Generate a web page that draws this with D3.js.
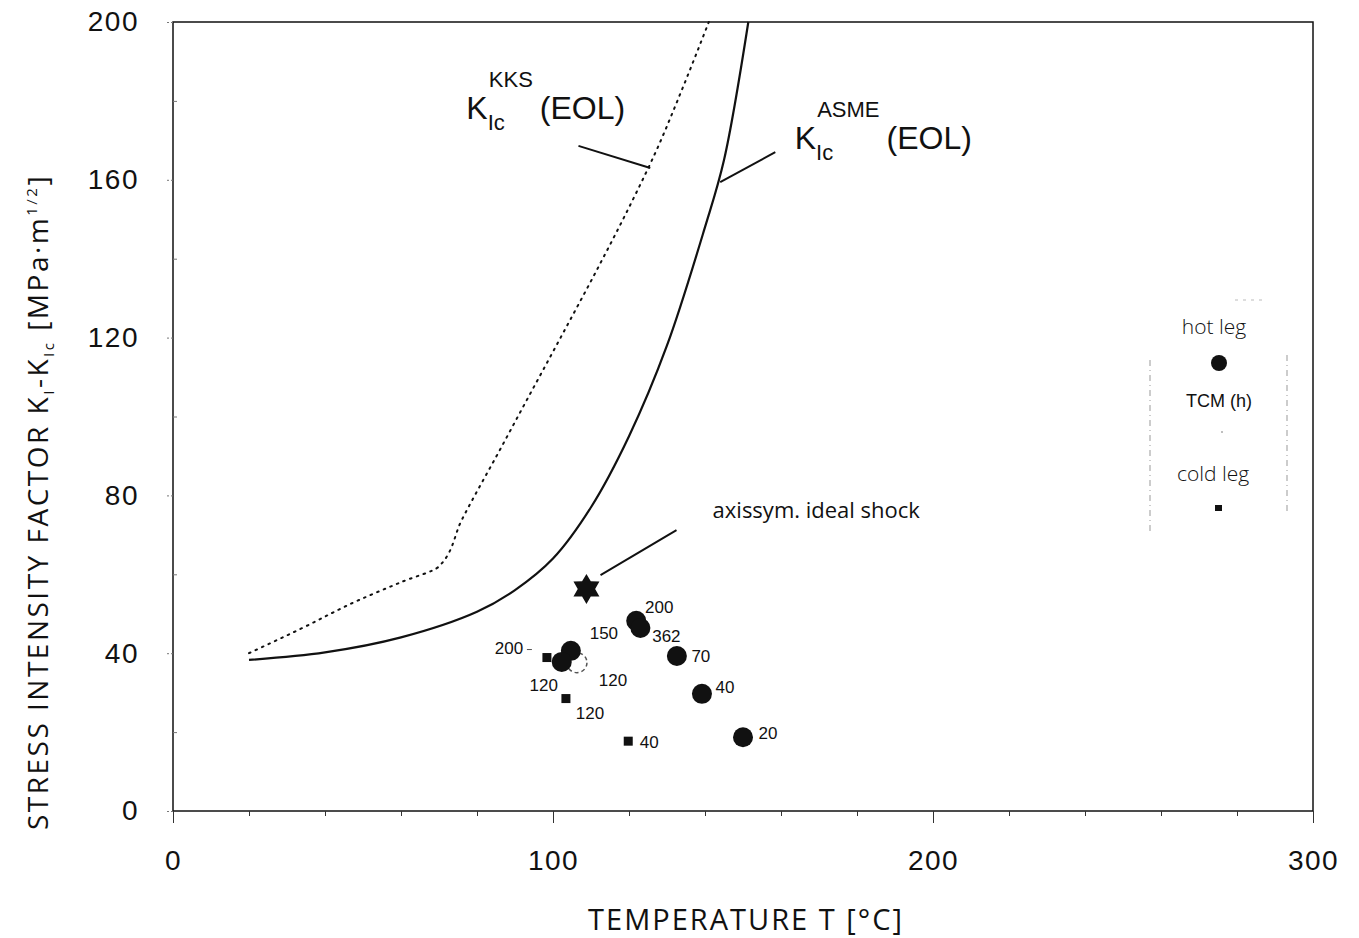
<!DOCTYPE html>
<html>
<head>
<meta charset="utf-8">
<script src="https://cdn.jsdelivr.net/npm/d3@7"></script>
<style>
  body { margin: 0; background: #fff; }
  text { font-family: "Liberation Sans", Arial, sans-serif; fill: #111; }
  .thin { font-family: "Open Sans", "DejaVu Sans", sans-serif; font-weight: 400; }
</style>
</head>
<body>
<svg id="chart" width="1359" height="938"></svg>
<script>
(function() {

  // curves
  var kksT = [20, 33, 49, 60, 70, 76, 86, 93, 102, 112, 120, 127, 134, 141]
  var kksK = [40, 45.9, 53.5, 58, 62, 73.8, 91.5, 104, 120, 138, 153, 167, 183, 200]
  var asmeT = [20, 40, 60, 80, 90, 100, 110, 120, 130, 140, 145, 151.4]
  var asmeK = [38.3, 40.2, 44, 50.5, 56, 64, 77, 95, 118, 148, 165, 200]

  // hot leg (filled circles)
  var hotT = [121.9, 123.0, 132.6, 139.2, 150.0, 104.7, 102.3]
  var hotK = [48.2, 46.4, 39.3, 29.7, 18.7, 40.6, 37.8]
  var hotLabels = ["200", "362", "70", "40", "20", "150", "120"]

  // TCM (h) (open circle)
  var tcmT = [106.3]
  var tcmK = [37.6]
  var tcmLabels = ["120"]

  // cold leg (squares)
  var coldT = [98.4, 103.4, 119.8]
  var coldK = [38.9, 28.5, 17.7]
  var coldLabels = ["200", "120", "40"]

  // axissym. ideal shock
  var shockT = [108.8]
  var shockK = [56.3]

  var xTicks = [0, 100, 200, 300]
  var yTicks = [0, 40, 80, 120, 160, 200]

  var svg = d3.select("#chart")

  var x = d3.scaleLinear().domain([0, 300]).range([173, 1313])
  var y = d3.scaleLinear().domain([0, 200]).range([811, 22])

  // frame
  svg.append("rect")
    .attr("x", x(0)).attr("y", y(200))
    .attr("width", x(300) - x(0)).attr("height", y(0) - y(200))
    .attr("fill", "none").attr("stroke", "#111").attr("stroke-width", 1.5)

  // bottom axis: minor ticks
  svg.append("g")
    .attr("transform", "translate(0," + y(0) + ")")
    .call(d3.axisBottom(x).tickValues(d3.range(0, 301, 20)).tickSize(5).tickFormat(""))
    .call(function(g) { g.select(".domain").remove() })
    .selectAll("line").attr("stroke", "#333")

  // bottom axis: major ticks and labels
  var xAxis = svg.append("g")
    .attr("transform", "translate(0," + y(0) + ")")
    .call(d3.axisBottom(x).tickValues(xTicks).tickSize(12).tickPadding(27).tickFormat(d3.format("d")))
  xAxis.select(".domain").remove()
  xAxis.selectAll("line").attr("stroke", "#333")
  xAxis.selectAll("text")
    .style("font-family", "'Liberation Sans', Arial, sans-serif")
    .style("font-size", "28px").style("letter-spacing", "1.5px").attr("fill", "#111")

  // left axis
  var yAxis = svg.append("g")
    .attr("transform", "translate(" + x(0) + ",0)")
    .call(d3.axisLeft(y).tickValues(yTicks).tickSize(8).tickPadding(26).tickFormat(d3.format("d")))
  yAxis.select(".domain").remove()
  yAxis.selectAll("line").attr("stroke", "#777").attr("stroke-dasharray", "2,2")
  yAxis.selectAll("text")
    .style("font-family", "'Liberation Sans', Arial, sans-serif")
    .style("font-size", "28px").style("letter-spacing", "1.5px").attr("fill", "#111")

  svg.append("g")
    .attr("transform", "translate(" + x(0) + ",0)")
    .call(d3.axisRight(y).tickValues(d3.range(20, 200, 40)).tickSize(4).tickFormat(""))
    .call(function(g) { g.select(".domain").remove() })
    .selectAll("line").attr("stroke", "#777")

  // curves
  var line = d3.line()
    .x(function(d) { return x(d[0]) })
    .y(function(d) { return y(d[1]) })
    .curve(d3.curveMonotoneY)

  svg.append("path")
    .datum(d3.zip(kksT, kksK))
    .attr("d", line)
    .attr("fill", "none").attr("stroke", "#111")
    .attr("stroke-width", 2).attr("stroke-dasharray", "1.6,5.5").attr("stroke-linecap", "round")

  svg.append("path")
    .datum(d3.zip(asmeT, asmeK))
    .attr("d", line.curve(d3.curveCatmullRom))
    .attr("fill", "none").attr("stroke", "#111").attr("stroke-width", 2.2)

  // curve labels
  function kLabel(tx, ky, sup) {
    var t = svg.append("text")
      .attr("x", x(tx)).attr("y", y(ky))
      .style("font-size", "32px")
    t.append("tspan").text("K")
    t.append("tspan").attr("dy", 11).style("font-size", "22px").text("Ic")
    t.append("tspan").attr("dx", -16).attr("dy", -43).style("font-size", "22px").text(sup)
    t.append("tspan").attr("dx", 7).attr("dy", 32).text("(EOL)")
  }
  kLabel(77.2, 175.5, "KKS")
  kLabel(163.6, 167.7, "ASME")

  function leader(t1, k1, t2, k2) {
    svg.append("line")
      .attr("x1", x(t1)).attr("y1", y(k1)).attr("x2", x(t2)).attr("y2", y(k2))
      .attr("stroke", "#111").attr("stroke-width", 2)
  }
  leader(106.7, 168.6, 125.6, 163)
  leader(158.5, 167, 144, 159.4)
  leader(112.5, 59.8, 132.5, 71.2)

  svg.append("text").attr("class", "thin")
    .attr("x", x(142)).attr("y", y(74.2))
    .style("font-size", "22px")
    .text("axissym. ideal shock")

  // star marker
  function hexagram(R) {
    var pts = []
    for (var i = 0; i < 12; i++) {
      var r = i % 2 === 0 ? R : R * 0.58
      var a = -Math.PI / 2 + i * Math.PI / 6
      pts.push([r * Math.cos(a), r * Math.sin(a)])
    }
    return "M" + pts.join("L") + "Z"
  }
  svg.selectAll(".shock")
    .data(d3.zip(shockT, shockK))
    .enter().append("path")
    .attr("class", "shock")
    .attr("transform", function(d) { return "translate(" + x(d[0]) + "," + y(d[1]) + ")" })
    .attr("d", hexagram(15))
    .attr("fill", "#111")

  // points
  var hotDx = [23, 26, 24, 23, 25, 33, -18]
  var hotDy = [-14, 8, 0, -7, -4, -18, 23]
  var tcmDx = [36], tcmDy = [17]
  var coldDx = [-38, 24, 21], coldDy = [-9, 14, 1]

  svg.selectAll(".tcm")
    .data(d3.zip(tcmT, tcmK))
    .enter().append("circle")
    .attr("cx", function(d) { return x(d[0]) })
    .attr("cy", function(d) { return y(d[1]) })
    .attr("r", 10)
    .attr("fill", "#fff").attr("stroke", "#555").attr("stroke-width", 1.5).attr("stroke-dasharray", "4,3")

  svg.selectAll(".hot")
    .data(d3.zip(hotT, hotK))
    .enter().append("circle")
    .attr("cx", function(d) { return x(d[0]) })
    .attr("cy", function(d) { return y(d[1]) })
    .attr("r", 10)
    .attr("fill", "#111")

  svg.selectAll(".cold")
    .data(d3.zip(coldT, coldK))
    .enter().append("rect")
    .attr("x", function(d) { return x(d[0]) - 4.5 })
    .attr("y", function(d) { return y(d[1]) - 4.5 })
    .attr("width", 9).attr("height", 9)
    .attr("fill", "#111")

  function pointLabels(ts, ks, labels, dxs, dys) {
    svg.append("g").selectAll("text")
      .data(labels)
      .enter().append("text")
      .attr("x", function(d, i) { return x(ts[i]) + dxs[i] })
      .attr("y", function(d, i) { return y(ks[i]) + dys[i] })
      .attr("text-anchor", "middle").attr("dy", "0.35em")
      .style("font-size", "17px")
      .text(function(d) { return d })
  }
  pointLabels(hotT, hotK, hotLabels, hotDx, hotDy)
  pointLabels(tcmT, tcmK, tcmLabels, tcmDx, tcmDy)
  pointLabels(coldT, coldK, coldLabels, coldDx, coldDy)
  // small dash after the cold "200" label
  svg.append("line")
    .attr("x1", x(coldT[0]) - 20).attr("x2", x(coldT[0]) - 15)
    .attr("y1", y(coldK[0]) - 8).attr("y2", y(coldK[0]) - 8)
    .attr("stroke", "#555").attr("stroke-width", 1)

  // legend
  var lg = svg.append("g")
  lg.append("line").attr("x1", 1150).attr("y1", 360).attr("x2", 1150).attr("y2", 535)
    .attr("stroke", "#999").attr("stroke-width", 1).attr("stroke-dasharray", "6,4,1,4")
  lg.append("line").attr("x1", 1287).attr("y1", 355).attr("x2", 1287).attr("y2", 512)
    .attr("stroke", "#999").attr("stroke-width", 1).attr("stroke-dasharray", "6,4,1,4")
  lg.append("line").attr("x1", 1235).attr("y1", 300).attr("x2", 1265).attr("y2", 300)
    .attr("stroke", "#bbb").attr("stroke-width", 1).attr("stroke-dasharray", "3,5")
  lg.append("text").attr("class", "thin").attr("x", 1214).attr("y", 334)
    .attr("text-anchor", "middle").style("font-size", "21px").style("font-weight", 300).attr("fill", "#222").text("hot leg")
  lg.append("circle").attr("cx", 1219).attr("cy", 363).attr("r", 8).attr("fill", "#111")
  lg.append("text").attr("x", 1219).attr("y", 407)
    .attr("text-anchor", "middle").style("font-size", "18px").text("TCM (h)")
  lg.append("circle").attr("cx", 1222).attr("cy", 432).attr("r", 1).attr("fill", "#aaa")
  lg.append("text").attr("class", "thin").attr("x", 1213).attr("y", 481)
    .attr("text-anchor", "middle").style("font-size", "21px").style("font-weight", 300).attr("fill", "#222").text("cold leg")
  lg.append("rect").attr("x", 1215).attr("y", 505).attr("width", 7).attr("height", 6).attr("fill", "#111")

  // axis titles
  svg.append("text").attr("class", "thin")
    .attr("x", 746).attr("y", 930)
    .attr("text-anchor", "middle")
    .style("font-size", "29px").style("letter-spacing", "2px")
    .text("TEMPERATURE T [°C]")

  var yl = svg.append("text").attr("class", "thin")
    .attr("transform", "translate(48,502) rotate(-90)")
    .attr("text-anchor", "middle")
    .style("font-size", "28px").style("letter-spacing", "2.5px")
  yl.append("tspan").text("STRESS INTENSITY FACTOR K")
  yl.append("tspan").attr("dy", 6).style("font-size", "15px").text("I")
  yl.append("tspan").attr("dy", -6).text("-K")
  yl.append("tspan").attr("dy", 6).style("font-size", "15px").text("Ic")
  yl.append("tspan").attr("dy", -6).text(" [MPa·m")
  yl.append("tspan").attr("dy", -11).style("font-size", "15px").text("1/2")
  yl.append("tspan").attr("dy", 11).text("]")

})()
</script>
</body>
</html>
